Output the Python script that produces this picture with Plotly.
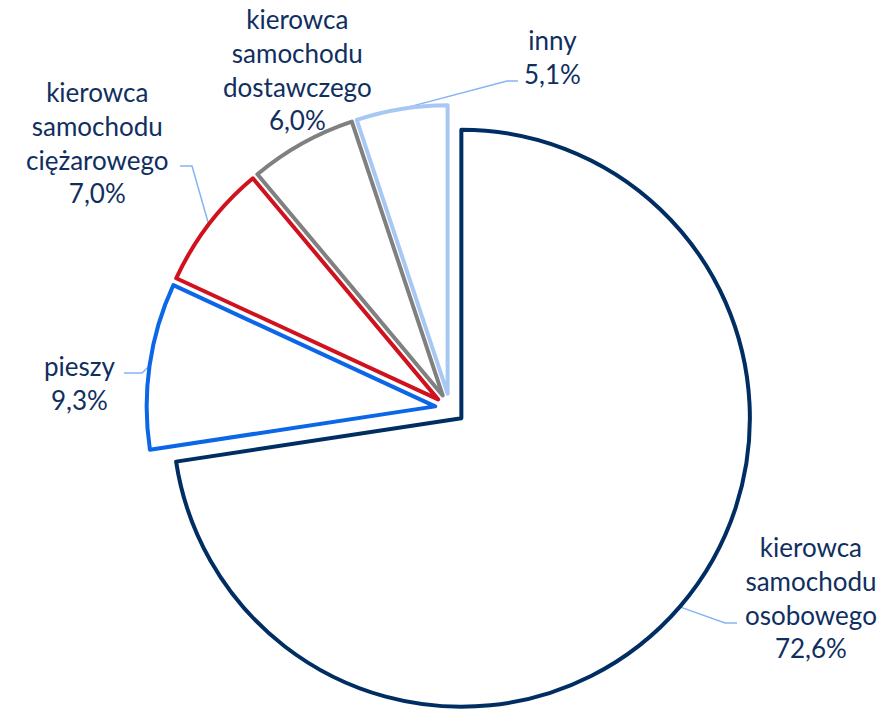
import math
import plotly.graph_objects as go

# Road-accident perpetrators by road-user type (share, %)
categories = [
    "kierowca samochodu osobowego",
    "pieszy",
    "kierowca samochodu ciężarowego",
    "kierowca samochodu dostawczego",
    "inny",
]
shares = [72.6, 9.3, 7.0, 6.0, 5.1]
outline_colors = ["#002D62", "#0B66E8", "#D0121E", "#808080", "#A8C8F4"]

# Label block centres (px) and leader elbows (px, None = no leader)
label_pos = [(811, 597), (80, 383), (97, 142), (297, 69), (552, 57)]
leader_elbow = [((725, 623), (737, 623)),
                ((142, 373), (124, 373)),
                ((192, 166), (180, 166)),
                None,
                ((507, 81), (518, 81))]

W, H = 888, 712
CX, CY = 450, 409          # pie centre, px
R = 289                    # pie radius, px
PULL = 15 / R              # explode distance as fraction of radius
HALF = R * (1 + PULL)

TEXT = "#102F5F"
LEADER = "#86B4F2"
FONT = "Lato"


def px(x):
    return x / W


def py(y):
    return 1 - y / H


def pct(v):
    return f"{v:.1f}".replace(".", ",") + "%"


fig = go.Figure(go.Pie(
    labels=categories,
    values=shares,
    sort=False,
    direction="clockwise",
    rotation=0,
    pull=[PULL] * len(shares),
    marker=dict(colors=["#FFFFFF"] * len(shares),
                line=dict(color=outline_colors, width=4)),
    textinfo="none",
    hoverinfo="label+percent",
    showlegend=False,
    domain=dict(x=[px(CX - HALF), px(CX + HALF)],
                y=[max(0.0, py(CY + HALF)), py(CY - HALF)]),
))

# Mid-angle of each slice (clockwise from 12 o'clock), used for leaders
total = sum(shares)
angles = []
acc = 0.0
for v in shares:
    angles.append((acc + v / 2) / total * 2 * math.pi)
    acc += v

annotations = []
shapes = []
for name, v, (lx, ly), elbow, a in zip(categories, shares, label_pos,
                                        leader_elbow, angles):
    text = name.replace(" ", "<br>") + "<br>" + pct(v)
    annotations.append(dict(
        x=px(lx), y=py(ly), xref="paper", yref="paper",
        xanchor="center", yanchor="middle", text=text, showarrow=False,
        font=dict(family=FONT, size=26, color=TEXT), align="center",
    ))
    if elbow is not None:
        sx = CX + HALF * math.sin(a)
        sy = CY - HALF * math.cos(a)
        (ex, ey), (fx, fy) = elbow
        path = (f"M {px(sx)} {py(sy)} L {px(ex)} {py(ey)} "
                f"L {px(fx)} {py(fy)}")
        shapes.append(dict(type="path", xref="paper", yref="paper",
                           path=path, line=dict(color=LEADER, width=1.5),
                           layer="below"))

fig.update_layout(
    width=W, height=H,
    margin=dict(l=0, r=0, t=0, b=0),
    paper_bgcolor="white",
    plot_bgcolor="white",
    annotations=annotations,
    shapes=shapes,
)

fig.write_html("out.html")
